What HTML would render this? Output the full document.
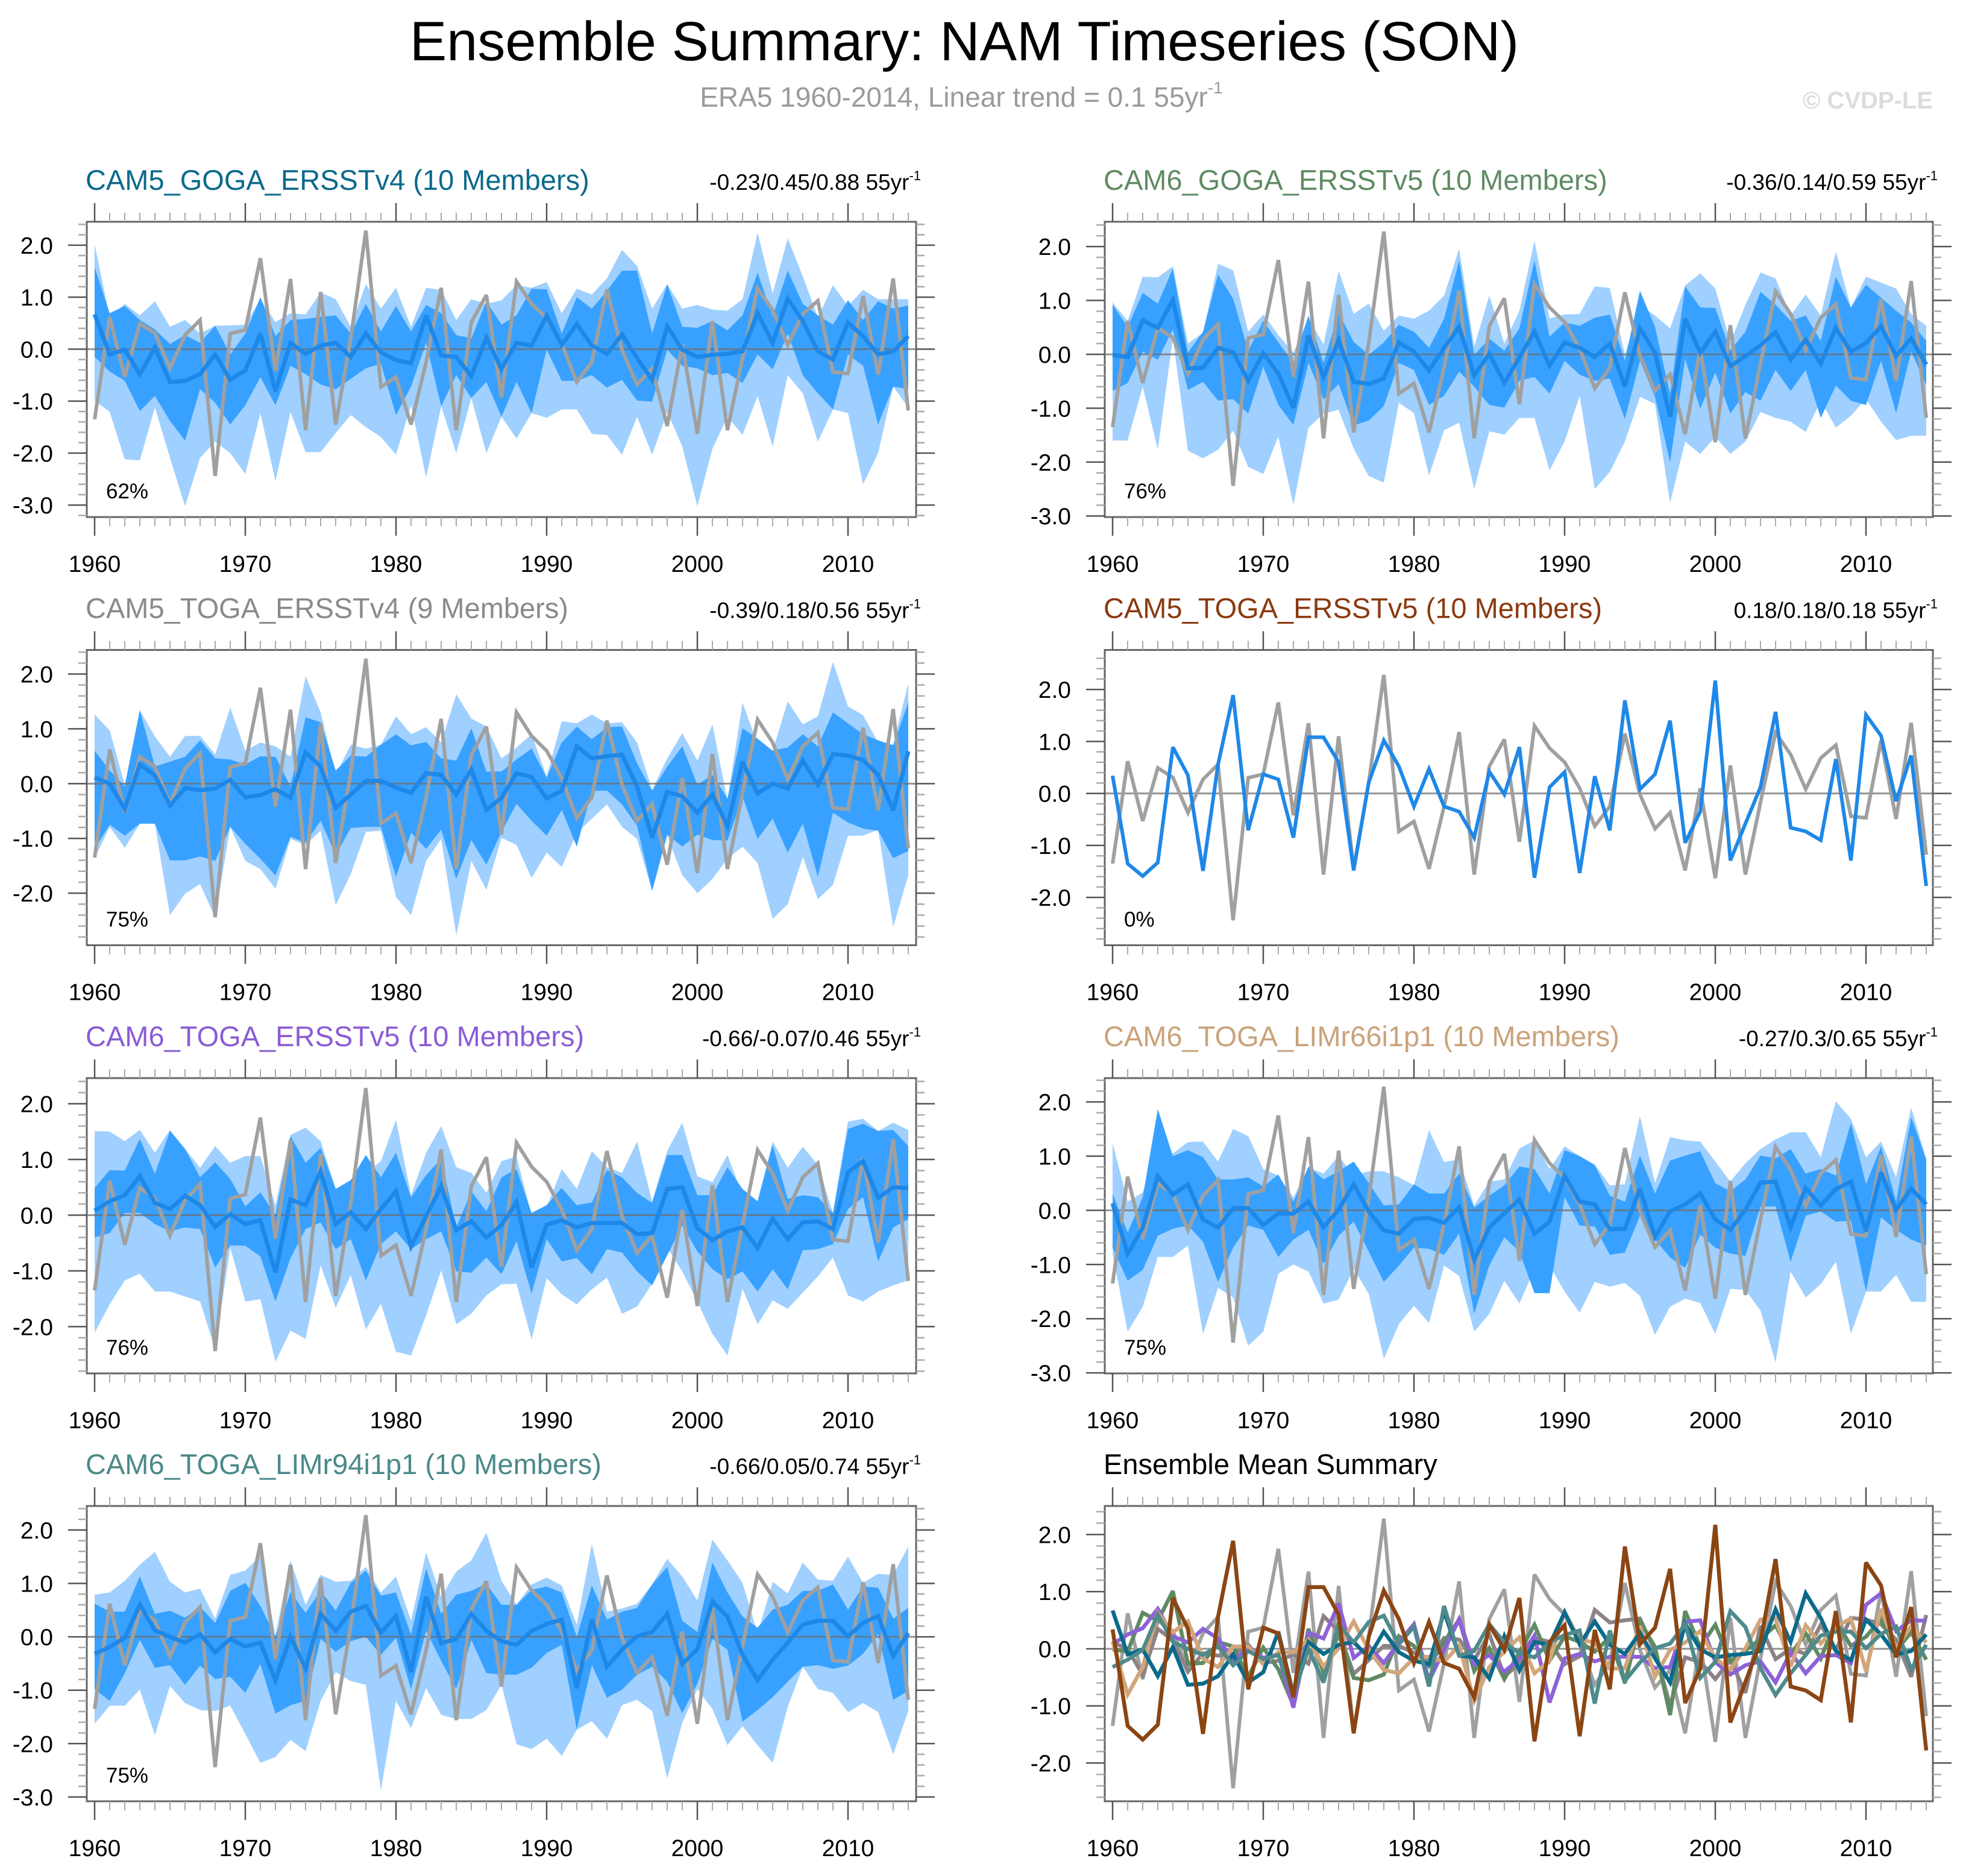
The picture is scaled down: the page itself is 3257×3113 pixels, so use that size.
<!DOCTYPE html>
<html><head><meta charset="utf-8"><title>Ensemble Summary: NAM Timeseries (SON)</title>
<style>
html,body{margin:0;padding:0;background:#fff;}
svg{display:block;font-family:"Liberation Sans",Arial,sans-serif;}
</style></head>
<body>
<svg id="chart" width="3257" height="3113" viewBox="0 0 3257 3113" xmlns="http://www.w3.org/2000/svg">
<rect x="0" y="0" width="3257" height="3113" fill="#fff"/>
<text x="1600" y="100" font-size="92" text-anchor="middle" fill="#000">Ensemble Summary: NAM Timeseries (SON)</text>
<text x="1595" y="177" font-size="46" text-anchor="middle" fill="#9a9a9a">ERA5 1960-2014, Linear trend = 0.1 55yr<tspan font-size="28" dy="-22">-1</tspan></text>
<text x="3207" y="180" font-size="40" font-weight="bold" text-anchor="end" fill="#dcdcdc">© CVDP-LE</text>
<g id="panels"></g>
</svg>
<script>
// ---- data ----
const era5 = [-1.35,0.62,-0.53,0.49,0.31,-0.37,0.27,0.56,-2.44,0.30,
 0.37,1.75,-0.42,1.35,-1.56,1.10,-1.45,0.21,2.28,-0.73,
 -0.54,-1.45,-0.25,1.18,-1.56,0.52,1.04,-0.93,1.30,0.87,
 0.60,0.10,-0.63,-0.25,1.15,-0.02,-0.68,-0.37,-1.48,0.10,
 -1.63,0.54,-1.56,-0.17,1.17,0.75,0.08,0.68,0.93,-0.44,
 -0.47,1.02,-0.49,1.36,-1.18];

const c5gogaMean = [0.67,-0.10,-0.01,-0.48,0.03,-0.63,-0.61,-0.48,-0.10,-0.59,-0.41,0.30,-0.81,0.12,-0.09,0.07,0.12,-0.15,0.30,-0.06,-0.21,-0.27,0.65,-0.12,-0.15,-0.52,0.22,-0.38,0.12,0.07,0.64,0.08,0.48,0.07,-0.09,0.28,-0.17,-0.59,0.44,-0.01,-0.15,-0.11,-0.09,-0.04,0.69,0.12,0.97,0.54,-0.04,-0.20,0.51,0.25,-0.10,-0.04,0.25];
const c5gogaDHi = [1.58,0.69,0.83,0.56,0.38,0.10,0.27,0.12,0.45,-0.10,0.30,1.00,0.25,0.56,0.58,0.62,0.65,0.30,0.87,0.34,0.83,0.34,0.85,0.69,0.27,0.21,0.92,0.47,0.65,1.16,1.15,0.30,1.00,0.78,1.12,1.51,1.51,0.30,1.25,0.43,0.41,0.54,0.36,0.65,1.47,0.63,1.51,0.87,0.65,0.47,0.94,0.56,0.92,0.78,0.84];
const c5gogaDLo = [-0.15,-0.43,-0.61,-1.19,-0.90,-1.38,-1.76,-0.77,-1.03,-1.45,-1.08,-0.54,-1.08,-0.32,-0.48,-0.68,-0.77,-0.57,-0.37,-0.28,-1.27,-0.72,0.12,-1.10,-0.50,-0.94,-0.63,-1.30,-0.63,-1.23,-0.01,-0.61,-0.61,-0.50,-0.74,-0.59,-0.99,-1.01,-0.01,-0.32,-0.37,-0.50,-0.46,-0.65,-0.10,-0.39,0.30,-0.50,-0.85,-1.16,-0.10,-0.32,-1.45,-0.72,-0.77];
const c5gogaLHi = [2.02,0.61,0.87,0.65,0.92,0.43,0.56,0.30,0.45,0.46,0.47,0.96,0.52,0.69,0.67,1.09,0.96,0.43,1.25,0.78,1.18,0.43,1.18,1.14,0.56,0.96,0.87,0.94,1.23,1.18,1.29,0.69,1.16,1.05,1.36,1.91,1.60,0.78,1.25,0.78,0.85,0.76,0.74,0.96,2.24,1.07,2.13,1.40,0.61,1.23,0.83,1.14,0.96,0.96,0.96];
const c5gogaLLo = [-0.99,-1.21,-2.12,-2.14,-1.12,-2.09,-3.02,-2.09,-1.78,-2.00,-2.40,-1.23,-2.54,-1.21,-1.98,-1.98,-1.61,-1.27,-1.50,-1.69,-2.03,-1.08,-2.47,-1.10,-2.00,-0.94,-2.00,-1.30,-1.72,-1.23,-1.32,-1.16,-1.16,-1.63,-1.65,-2.03,-1.30,-2.03,-1.21,-1.87,-3.02,-1.92,-1.30,-1.65,-0.90,-1.87,-0.50,-0.85,-1.78,-1.16,-1.23,-2.60,-2.00,-0.72,-1.12];

const c6gogaMean = [-0.01,-0.05,0.63,0.49,1.01,-0.26,-0.25,0.12,0.04,-0.49,0.02,-0.36,-0.99,0.35,-0.42,0.26,-0.51,-0.55,-0.45,0.22,0.05,-0.30,0.12,0.51,-0.39,0.01,-0.53,-0.06,0.42,-0.21,0.22,0.12,-0.05,0.20,-0.60,0.48,0.03,-1.16,0.66,0.03,0.42,-0.22,-0.03,0.17,0.41,-0.10,0.27,-0.17,0.49,0.05,0.21,0.52,-0.03,0.29,-0.19];
const c6gogaDHi = [0.92,0.51,1.14,0.94,1.59,0.03,0.42,1.48,1.03,0.07,0.62,0.22,-0.16,0.72,-0.16,0.77,0.23,-0.01,0.22,0.55,0.42,0.12,0.66,1.74,-0.01,0.29,0.07,0.48,1.74,0.33,0.59,0.53,0.68,0.74,-0.12,1.18,0.51,-0.74,1.26,0.87,0.86,0.07,0.42,1.16,0.92,0.62,0.72,0.25,1.44,0.87,1.29,1.05,0.81,0.59,0.25];
const c6gogaDLo = [-0.68,-0.53,0.05,-0.10,0.46,-0.66,-0.51,-0.86,-0.83,-1.10,-0.23,-0.94,-1.31,-0.16,-0.84,-0.55,-1.32,-1.23,-0.96,-0.16,-0.29,-0.94,-0.77,-0.32,-0.60,-0.94,-0.99,-0.49,-0.42,-0.73,-0.12,-0.38,-0.49,-0.45,-1.20,-0.12,-0.79,-2.00,-0.08,-1.01,-0.34,-1.10,-0.70,-0.86,-0.29,-0.68,-0.29,-1.18,-0.58,-0.86,-0.94,-0.12,-1.09,0.05,-0.57];
const c6gogaLHi = [0.96,0.62,1.44,1.43,1.63,0.20,0.40,1.68,1.56,0.42,0.74,0.36,0.03,0.68,0.18,1.55,0.75,0.94,0.44,0.72,0.66,0.81,1.09,1.96,0.14,1.09,0.20,0.81,2.11,0.67,0.74,0.75,1.26,1.23,-0.01,0.92,0.72,0.48,1.28,1.50,1.22,0.22,0.92,1.52,1.41,0.72,1.11,0.72,1.91,0.87,1.44,1.33,1.22,0.75,0.53];
const c6gogaLLo = [-1.60,-1.60,-0.60,-1.77,0.30,-1.79,-1.93,-1.77,-1.42,-2.09,-2.22,-1.53,-2.80,-1.36,-1.10,-1.03,-1.75,-2.26,-2.38,-0.90,-1.09,-2.25,-1.41,-1.27,-2.50,-1.43,-1.49,-1.18,-1.18,-2.15,-1.62,-0.77,-2.50,-2.18,-1.62,-0.79,-0.92,-2.76,-1.62,-1.85,-1.53,-1.85,-1.62,-1.07,-1.18,-1.25,-1.44,-0.86,-1.36,-1.14,-0.83,-1.25,-1.59,-1.51,-1.51];

const c5togaV4Mean = [0.11,0.00,-0.46,0.35,0.15,-0.40,-0.08,-0.12,-0.09,0.07,-0.25,-0.21,-0.10,-0.26,0.57,0.31,-0.44,-0.20,0.05,0.05,-0.07,-0.17,0.19,0.16,-0.20,0.26,-0.48,-0.26,0.19,0.12,-0.27,-0.13,0.68,0.46,0.50,0.53,-0.05,-0.99,-0.15,-0.23,-0.53,-0.20,-0.77,0.40,-0.18,0.00,-0.09,0.42,-0.02,0.54,0.51,0.43,0.16,-0.49,0.59];
const c5togaV4DHi = [0.60,0.24,-0.05,1.34,0.31,0.40,0.49,0.79,0.46,0.44,0.35,0.50,0.49,-0.05,1.21,1.12,0.24,0.51,0.49,0.71,0.90,0.70,0.76,0.46,0.42,1.01,0.22,0.22,0.44,0.64,0.11,0.75,1.04,0.81,1.03,1.04,0.37,-0.13,0.31,0.68,-0.02,0.16,-0.27,1.01,0.82,0.60,0.66,0.90,0.68,1.30,1.10,0.90,0.79,0.70,1.48];
const c5togaV4DLo = [-1.19,-0.75,-0.95,-0.73,-0.73,-1.40,-1.40,-1.33,-1.41,-0.79,-1.10,-1.37,-1.68,-0.97,-1.08,-0.68,-1.30,-0.81,-0.79,-0.79,-1.70,-0.90,-1.19,-0.84,-1.74,-1.03,-1.48,-0.88,-0.37,-0.68,-0.95,-0.48,-1.15,-0.13,-0.13,-0.38,-0.77,-1.96,-0.93,-1.15,-0.93,-1.03,-1.04,-0.24,-1.01,-0.64,-1.26,-0.73,-1.70,-0.53,-0.71,-0.82,-0.86,-1.36,-1.23];
const c5togaV4LHi = [1.26,0.97,-0.02,1.34,0.86,0.49,0.87,0.87,0.53,1.39,0.60,0.75,0.68,0.49,1.96,1.30,0.16,0.71,0.64,0.71,1.23,0.90,1.03,0.75,1.63,1.19,1.04,0.46,0.66,0.90,0.13,1.14,1.10,1.26,1.10,1.12,0.75,-0.11,0.46,0.92,0.42,1.08,-0.31,1.48,0.71,0.60,1.50,1.08,1.23,2.22,1.41,1.25,0.75,0.71,1.83];
const c5togaV4LLo = [-1.36,-0.79,-1.17,-0.73,-0.73,-2.40,-2.01,-1.83,-2.45,-0.79,-1.41,-1.56,-1.92,-1.01,-1.12,-0.86,-2.22,-1.65,-0.88,-0.86,-2.07,-2.40,-1.41,-1.01,-2.77,-1.41,-1.94,-0.99,-1.12,-1.72,-1.26,-1.52,-0.90,-0.64,-0.38,-0.79,-1.01,-1.96,-0.95,-1.67,-2.00,-1.74,-1.37,-1.15,-1.45,-2.47,-2.20,-1.34,-2.11,-1.85,-0.95,-0.95,-0.84,-2.62,-1.67];

const c5togaV5Mean = [0.34,-1.35,-1.59,-1.33,0.89,0.35,-1.49,0.56,1.89,-0.71,0.37,0.27,-0.85,1.08,1.08,0.60,-1.48,0.21,1.02,0.52,-0.25,0.47,-0.25,-0.35,-0.85,0.42,-0.02,0.89,-1.62,0.12,0.41,-1.53,0.33,-0.71,1.79,0.08,0.37,1.40,-0.95,-0.35,2.17,-1.29,-0.58,0.12,1.57,-0.66,-0.73,-0.90,0.66,-1.29,1.51,1.11,-0.15,0.73,-1.78];

const c6togaV5Mean = [0.08,0.25,0.36,0.70,0.22,0.11,0.35,0.18,-0.21,0.02,-0.16,-0.09,-1.03,0.28,0.18,0.79,-0.16,0.05,-0.25,0.11,0.43,-0.56,-0.02,0.52,-0.27,-0.11,-0.40,-0.18,0.23,-0.94,-0.17,-0.09,-0.22,-0.14,-0.14,-0.14,-0.34,-0.32,0.47,0.50,-0.23,-0.45,-0.29,-0.22,-0.59,-0.06,-0.43,-0.13,-0.11,-0.25,0.77,0.97,0.31,0.50,0.49];
const c6togaV5DHi = [0.49,0.81,0.80,1.37,0.74,1.51,1.19,0.68,0.95,0.65,0.16,0.41,0.00,1.42,0.94,1.21,0.47,0.63,1.08,0.68,1.12,0.32,0.72,1.01,-0.22,0.43,0.07,0.68,0.83,0.04,0.18,0.49,0.18,0.23,0.81,0.68,0.40,0.22,1.08,1.08,0.36,0.36,0.86,0.47,0.25,1.26,0.29,0.36,0.32,0.04,1.55,1.64,1.51,1.53,1.24];
const c6togaV5DLo = [-0.40,-0.32,0.04,0.04,-0.16,-0.29,-0.22,-0.25,-0.94,-0.54,-0.55,-0.74,-1.55,-0.77,-0.25,-0.13,-0.61,-0.43,-1.17,-0.52,-0.29,-0.61,-0.43,-0.29,-1.01,-1.03,-0.76,-1.06,-0.47,-1.41,-0.43,-0.83,-0.77,-1.06,-0.61,-0.67,-1.01,-1.26,-0.72,-0.18,-0.65,-0.97,-1.15,-1.01,-1.37,-0.97,-1.33,-0.63,-0.61,-0.52,0.11,0.32,-0.83,-0.22,-0.07];
const c6togaV5LHi = [1.51,1.50,1.33,1.53,1.12,1.53,1.19,0.85,1.24,0.94,1.06,1.06,0.18,1.44,1.57,1.33,0.47,0.59,0.76,0.97,1.71,0.36,1.12,1.60,0.86,0.76,0.40,0.97,1.05,0.00,0.14,0.83,0.47,1.15,0.86,0.76,1.32,0.25,1.15,1.66,0.70,0.59,1.08,0.36,0.25,1.32,0.85,1.23,0.90,0.04,1.68,1.73,1.51,1.66,1.53];
const c6togaV5LLo = [-2.11,-1.60,-1.17,-1.05,-1.37,-1.37,-1.46,-1.55,-2.41,-0.58,-1.55,-1.51,-2.63,-2.07,-2.22,-0.90,-1.66,-1.08,-2.05,-1.59,-2.45,-2.52,-1.80,-0.99,-1.96,-1.77,-1.44,-1.24,-1.23,-2.23,-1.13,-1.42,-1.60,-1.33,-1.12,-1.77,-1.64,-1.23,-0.58,-1.01,-1.55,-2.13,-2.52,-1.32,-1.96,-1.53,-1.68,-1.39,-1.10,-0.76,-1.44,-1.55,-1.37,-1.26,-1.17];

const lim66Mean = [0.13,-0.80,-0.32,0.63,0.29,0.48,-0.17,-0.32,0.04,0.04,-0.27,-0.06,-0.06,0.16,-0.31,0.01,0.48,-0.02,-0.37,-0.43,-0.16,-0.14,-0.23,0.06,-0.91,-0.32,-0.05,0.20,-0.43,-0.21,0.64,0.16,0.11,-0.35,-0.34,0.40,-0.49,-0.02,0.11,0.31,-0.17,-0.36,0.01,0.51,0.53,-0.31,0.41,0.09,0.39,0.53,-0.39,0.70,0.01,0.40,0.11];
const lim66DHi = [0.31,-0.41,0.24,1.87,1.00,1.11,0.98,0.57,0.57,0.61,0.44,0.66,0.16,0.81,0.57,0.72,0.90,0.50,0.09,0.11,0.48,0.31,0.31,0.68,0.05,0.27,0.46,0.81,0.76,0.31,1.11,1.00,0.83,0.27,0.16,1.01,0.31,0.92,1.01,1.09,0.50,0.35,0.57,1.01,0.96,1.13,0.68,0.76,0.64,1.61,0.48,1.18,0.16,1.72,0.94];
const lim66DLo = [-0.69,-1.30,-1.10,-0.47,-0.34,-0.28,-0.58,-1.32,-0.69,-0.28,-0.36,-0.86,-0.54,-0.36,-0.99,-0.47,-0.21,-0.76,-1.32,-1.02,-0.69,-0.71,-0.82,-0.43,-1.91,-1.02,-0.50,-0.76,-1.53,-1.53,0.24,-0.28,-0.30,-0.82,-0.78,-0.10,-0.54,-0.87,-1.06,-0.45,-0.69,-0.80,-0.84,0.07,0.07,-0.95,-0.10,-0.02,-0.21,-0.19,-1.50,-0.13,-0.36,-0.54,-0.65];
const lim66LHi = [1.24,0.16,0.33,1.13,1.05,1.26,1.27,0.90,1.50,1.37,0.76,0.64,0.24,0.79,0.68,1.00,0.64,0.72,0.72,0.61,0.46,1.48,0.89,0.94,0.09,0.53,0.57,1.14,1.29,0.76,1.18,1.00,0.85,0.46,0.48,1.74,0.50,1.35,1.29,1.27,0.90,0.53,0.87,1.13,1.31,1.44,1.44,0.98,2.01,1.69,0.98,1.27,0.61,1.90,0.94];
const lim66LLo = [-0.80,-2.24,-1.78,-0.86,-0.86,-0.65,-2.28,-1.43,-1.61,-2.50,-2.24,-1.17,-1.00,-1.13,-1.72,-1.65,-1.08,-1.54,-2.74,-2.10,-1.76,-2.08,-1.02,-1.21,-2.24,-1.91,-1.30,-1.72,-1.08,-1.02,-1.50,-1.89,-1.32,-1.41,-1.34,-1.58,-2.30,-1.78,-1.63,-1.71,-2.28,-1.45,-1.47,-1.85,-2.81,-1.13,-1.61,-1.36,-0.95,-2.28,-1.50,-1.50,-1.19,-1.69,-1.69];

const lim94Mean = [-0.32,-0.19,-0.02,0.60,0.12,0.00,-0.11,0.05,-0.29,-0.04,-0.18,-0.11,-0.81,0.00,-0.59,0.43,0.11,0.47,0.58,0.08,0.39,-0.66,0.75,-0.12,-0.04,0.43,0.11,-0.08,-0.15,0.11,0.24,0.32,-0.96,0.32,-0.56,-0.24,0.01,0.09,0.43,-0.51,-0.23,0.66,0.38,-0.34,-0.81,-0.43,-0.11,0.23,0.30,0.30,0.01,0.26,0.39,-0.36,0.07];
const lim94DHi = [0.62,0.47,0.47,1.13,0.43,0.49,0.36,0.56,0.26,0.86,1.01,0.58,0.00,0.83,0.45,0.86,0.49,1.01,1.24,0.77,0.83,0.04,1.28,0.43,0.79,0.86,0.99,0.60,0.60,0.88,0.94,0.83,0.00,0.96,0.32,0.47,0.54,0.98,1.31,0.30,0.09,1.39,0.83,0.38,0.17,0.51,0.60,0.86,0.86,0.98,0.51,0.94,0.92,0.34,0.54];
const lim94DLo = [-0.98,-1.20,-0.68,-0.06,-0.58,-0.53,-0.90,-0.54,-0.79,-0.75,-1.05,-0.51,-1.44,-1.28,-1.20,-0.04,-0.28,-0.08,0.00,-0.34,-0.02,-0.98,0.11,-0.45,-0.98,-0.06,-0.68,-0.71,-0.71,-0.58,-0.30,-0.15,-1.74,-0.53,-1.14,-0.99,-0.71,-0.56,-0.84,-1.43,-0.88,-0.04,-0.24,-1.59,-1.37,-1.13,-0.84,-0.56,-0.53,-0.60,-0.54,-0.32,0.06,-1.18,-1.01];
const lim94LHi = [0.79,0.83,1.05,1.35,1.59,1.03,0.83,0.90,0.34,1.16,1.24,1.52,0.04,1.43,0.60,1.16,1.03,1.05,1.31,0.83,1.13,0.30,1.58,0.75,1.22,1.43,1.95,1.05,0.60,0.98,1.11,0.96,0.23,1.74,0.47,0.53,0.62,0.98,1.46,1.13,0.68,1.82,1.43,1.01,0.06,1.03,0.81,1.39,1.07,1.05,1.50,1.01,1.18,1.16,1.69];
const lim94LLo = [-1.63,-1.29,-1.29,-0.99,-1.84,-0.92,-1.24,-1.37,-1.39,-1.29,-1.82,-2.36,-2.25,-1.93,-2.14,-1.20,-0.66,-0.83,-0.90,-2.87,-1.20,-1.71,-0.96,-1.46,-1.54,-1.54,-1.37,-0.90,-2.01,-2.10,-1.91,-2.23,-1.74,-1.58,-1.91,-1.28,-1.18,-1.39,-2.65,-1.61,-0.98,-1.35,-2.03,-1.67,-2.03,-2.36,-1.31,-0.56,-0.98,-1.05,-1.41,-1.24,-1.41,-2.20,-1.39];

const tickYears = [1960,1970,1980,1990,2000,2010];
const firstYear = 1960;

// ---- layout ----
const NS = "http://www.w3.org/2000/svg";
const root = document.getElementById('panels');
function mk(tag, attrs, parent){
  const el = document.createElementNS(NS, tag);
  for (const k in attrs) el.setAttribute(k, attrs[k]);
  (parent||root).appendChild(el);
  return el;
}
const colL = 144, colR = 1833, wL = 1376, wR = 1374, H = 490;
const rows = [368, 1078.5, 1789, 2499];

const panels = [
 {id:'cam5-goga-ersstv4', x0:colL, w:wL, y0:rows[0], ymax:2.45, ymin:-3.23, title:'CAM5_GOGA_ERSSTv4 (10 Members)', tcol:'#0b6a8b', trend:'-0.23/0.45/0.88 55yr', pct:'62%', mean:c5gogaMean, dHi:c5gogaDHi, dLo:c5gogaDLo, lHi:c5gogaLHi, lLo:c5gogaLLo},
 {id:'cam6-goga-ersstv5', x0:colR, w:wR, y0:rows[0], ymax:2.46, ymin:-3.02, title:'CAM6_GOGA_ERSSTv5 (10 Members)', tcol:'#5f8b63', trend:'-0.36/0.14/0.59 55yr', pct:'76%', mean:c6gogaMean, dHi:c6gogaDHi, dLo:c6gogaDLo, lHi:c6gogaLHi, lLo:c6gogaLLo},
 {id:'cam5-toga-ersstv4', x0:colL, w:wL, y0:rows[1], ymax:2.44, ymin:-2.95, title:'CAM5_TOGA_ERSSTv4 (9 Members)', tcol:'#8a8a8a', trend:'-0.39/0.18/0.56 55yr', pct:'75%', mean:c5togaV4Mean, dHi:c5togaV4DHi, dLo:c5togaV4DLo, lHi:c5togaV4LHi, lLo:c5togaV4LLo},
 {id:'cam5-toga-ersstv5', x0:colR, w:wR, y0:rows[1], ymax:2.76, ymin:-2.92, title:'CAM5_TOGA_ERSSTv5 (10 Members)', tcol:'#8b3a0f', trend:'0.18/0.18/0.18 55yr', pct:'0%', mean:c5togaV5Mean},
 {id:'cam6-toga-ersstv5', x0:colL, w:wL, y0:rows[2], ymax:2.46, ymin:-2.84, title:'CAM6_TOGA_ERSSTv5 (10 Members)', tcol:'#8a5cd6', trend:'-0.66/-0.07/0.46 55yr', pct:'76%', mean:c6togaV5Mean, dHi:c6togaV5DHi, dLo:c6togaV5DLo, lHi:c6togaV5LHi, lLo:c6togaV5LLo},
 {id:'cam6-toga-limr66', x0:colR, w:wR, y0:rows[2], ymax:2.44, ymin:-3.01, title:'CAM6_TOGA_LIMr66i1p1 (10 Members)', tcol:'#caa27a', trend:'-0.27/0.3/0.65 55yr', pct:'75%', mean:lim66Mean, dHi:lim66DHi, dLo:lim66DLo, lHi:lim66LHi, lLo:lim66LLo},
 {id:'cam6-toga-limr94', x0:colL, w:wL, y0:rows[3], ymax:2.45, ymin:-3.08, title:'CAM6_TOGA_LIMr94i1p1 (10 Members)', tcol:'#4a8989', trend:'-0.66/0.05/0.74 55yr', pct:'75%', mean:lim94Mean, dHi:lim94DHi, dLo:lim94DLo, lHi:lim94LHi, lLo:lim94LLo},
 {id:'ensemble-mean-summary', x0:colR, w:wR, y0:rows[3], ymax:2.50, ymin:-2.67, title:'Ensemble Mean Summary', tcol:'#000', summary:true}
];

const summarySeries = [
 {name:'cam5-toga-ersstv4', data:c5togaV4Mean, col:'#8d8387'},
 {name:'cam6-goga-ersstv5', data:c6gogaMean, col:'#5f8b63'},
 {name:'cam6-toga-ersstv5', data:c6togaV5Mean, col:'#8d62d8'},
 {name:'cam6-toga-limr66', data:lim66Mean, col:'#d2a67a'},
 {name:'cam5-goga-ersstv4', data:c5gogaMean, col:'#0b6a8b'},
 {name:'cam6-toga-limr94', data:lim94Mean, col:'#4f8a8c'},
 {name:'cam5-toga-ersstv5', data:c5togaV5Mean, col:'#8b4513'}
];

function fmt(v){ return v.toFixed(1); }

panels.forEach((p, pi) => {
  const g = mk('g', {});
  
  
  const xS = i => p.x0 + 13 + i * 25.0;
  const yS = v => p.y0 + (p.ymax - v) / (p.ymax - p.ymin) * H;
  const clipId = 'clip' + pi;
  const cp = mk('clipPath', {id: clipId}, g);
  mk('rect', {x:p.x0, y:p.y0, width:p.w, height:H}, cp);
  const plot = mk('g', {'clip-path':'url(#' + clipId + ')'}, g);

  function band(hi, lo, col, name){
    let d = '';
    hi.forEach((v, i) => { d += (i ? 'L' : 'M') + xS(i).toFixed(1) + ',' + yS(v).toFixed(1); });
    for (let i = lo.length - 1; i >= 0; i--) d += 'L' + xS(i).toFixed(1) + ',' + yS(lo[i]).toFixed(1);
    const el = mk('path', {d: d + 'Z', fill: col, stroke: 'none'}, plot);
    
    
  }
  function line(arr, col, wdt, name){
    const pts = arr.map((v, i) => xS(i).toFixed(1) + ',' + yS(v).toFixed(1)).join(' ');
    const el = mk('polyline', {points: pts, fill:'none', stroke: col, 'stroke-width': wdt, 'stroke-linejoin':'miter', 'stroke-miterlimit':'3'}, plot);
    
    
  }

  if (p.lHi) band(p.lHi, p.lLo, '#9fd0ff', 'outer-spread-band');
  if (p.dHi) band(p.dHi, p.dLo, '#38a1ff', 'inner-spread-band');

  const z = mk('line', {x1:p.x0, x2:p.x0 + p.w, y1:yS(0), y2:yS(0), stroke:'#6f6f6f', 'stroke-width':3, 'stroke-opacity':0.75}, plot);
  
  

  if (p.summary) {
    line(era5, '#a0a0a0', 6, 'era5-line');
    summarySeries.forEach(s => line(s.data, s.col, 6.5, 'summary-line-' + s.name));
  } else if (p.dHi) {
    line(era5, '#a0a0a0', 6, 'era5-line');
    line(p.mean, '#1e88e8', 7, 'ensemble-mean-line');
  } else {
    line(era5, '#a0a0a0', 6, 'era5-line');
    line(p.mean, '#1e88e8', 6, 'ensemble-mean-line');
  }

  const fr = mk('rect', {x:p.x0, y:p.y0, width:p.w, height:H, fill:'none', stroke:'#666', 'stroke-width':3}, g);
  
  

  for (let i = 0; i < 55; i++) {
    const yr = firstYear + i;
    const major = tickYears.indexOf(yr) >= 0;
    const len = major ? 31 : 15;
    const col = major ? '#555' : '#aaa';
    const sw = major ? 2.5 : 2;
    mk('line', {x1:xS(i), x2:xS(i), y1:p.y0, y2:p.y0 - len, stroke:col, 'stroke-width':sw}, g);
    mk('line', {x1:xS(i), x2:xS(i), y1:p.y0 + H, y2:p.y0 + H + len, stroke:col, 'stroke-width':sw}, g);
  }
  tickYears.forEach(yr => {
    const t = mk('text', {x:xS(yr - firstYear), y:p.y0 + H + 91, 'font-size':39, 'text-anchor':'middle', fill:'#000'}, g);
    t.textContent = String(yr);
    
    
  });

  const startMinor = Math.ceil(p.ymin * 5 - 1e-6), endMinor = Math.floor(p.ymax * 5 + 1e-6);
  for (let k = startMinor; k <= endMinor; k++) {
    const v = k / 5;
    const major = (k % 5 === 0);
    const len = major ? 31 : 14;
    const col = major ? '#555' : '#aaa';
    const yy = yS(v);
    mk('line', {x1:p.x0, x2:p.x0 - len, y1:yy, y2:yy, stroke:col, 'stroke-width':2.5}, g);
    mk('line', {x1:p.x0 + p.w, x2:p.x0 + p.w + len, y1:yy, y2:yy, stroke:col, 'stroke-width':2.5}, g);
    if (major) {
      const t = mk('text', {x:p.x0 - 56, y:yy + 14, 'font-size':39, 'text-anchor':'end', fill:'#000'}, g);
      t.textContent = fmt(v);
      
      
    }
  }

  const tt = mk('text', {x:p.x0 - 2, y:p.y0 - 53, 'font-size':47, fill:p.tcol}, g);
  tt.textContent = p.title;
  
  
  if (p.trend) {
    const tr = mk('text', {x:p.x0 + p.w + 8, y:p.y0 - 53, 'font-size':37, 'text-anchor':'end', fill:'#000'}, g);
    tr.textContent = p.trend;
    const sup = mk('tspan', {'font-size':22, dy:-16}, tr);
    sup.textContent = '-1';
    
    
  }
  if (p.pct) {
    const pc = mk('text', {x:p.x0 + 32, y:p.y0 + H - 31, 'font-size':35, fill:'#000'}, g);
    pc.textContent = p.pct;
    
    
  }
});
</script>
</body></html>
